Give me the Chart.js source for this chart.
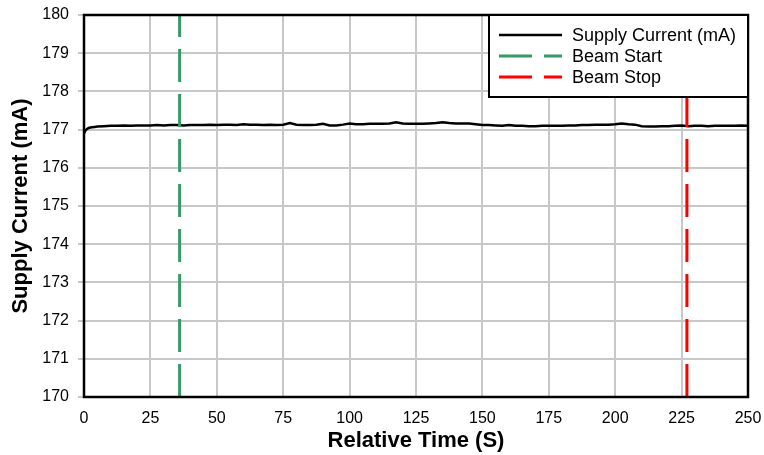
<!DOCTYPE html>
<html>
<head>
<meta charset="utf-8">
<script src="https://cdn.jsdelivr.net/npm/chart.js@4"></script>
<style>
  html, body { margin: 0; padding: 0; background: #fff; }
</style>
</head>
<body>
<canvas id="chart" width="764" height="455"></canvas>
<script>
// relative time (s) and supply current (mA)
const timeS = [
  0, 0.5, 1, 1.5, 2, 3, 4, 5, 7.5, 10, 12.5, 15, 17.5, 20, 22.5, 25, 27.5, 30, 32.5, 35,
  37.5, 40, 42.5, 45, 47.5, 50, 52.5, 55, 57.5, 60, 62.5, 65, 67.5, 70, 72.5, 75, 77.5, 80,
  82.5, 85, 87.5, 90, 92.5, 95, 97.5, 100, 102.5, 105, 107.5, 110, 112.5, 115, 117.5, 120,
  122.5, 125, 127.5, 130, 132.5, 135, 137.5, 140, 142.5, 145, 147.5, 150, 152.5, 155, 157.5,
  160, 162.5, 165, 167.5, 170, 172.5, 175, 177.5, 180, 182.5, 185, 187.5, 190, 192.5, 195,
  197.5, 200, 202.5, 205, 207.5, 210, 212.5, 215, 217.5, 220, 222.5, 225, 227.5, 230, 232.5,
  235, 237.5, 240, 242.5, 245, 247.5, 250
];
const currentMA = [
  176.90, 176.97, 177.01, 177.03, 177.05, 177.06, 177.07, 177.08, 177.09, 177.10, 177.10, 177.11, 177.10, 177.11, 177.11, 177.11, 177.12, 177.11, 177.12, 177.12,
  177.11, 177.12, 177.12, 177.12, 177.13, 177.12, 177.13, 177.13, 177.12, 177.14, 177.13, 177.13, 177.12, 177.13, 177.12, 177.13, 177.17, 177.13,
  177.12, 177.12, 177.13, 177.15, 177.11, 177.11, 177.13, 177.16, 177.14, 177.14, 177.15, 177.15, 177.15, 177.16, 177.19, 177.16,
  177.15, 177.15, 177.15, 177.16, 177.17, 177.19, 177.17, 177.16, 177.16, 177.16, 177.14, 177.12, 177.12, 177.11, 177.10,
  177.12, 177.10, 177.10, 177.09, 177.09, 177.10, 177.10, 177.10, 177.10, 177.11, 177.11, 177.12, 177.12, 177.13, 177.13,
  177.13, 177.14, 177.16, 177.14, 177.13, 177.09, 177.08, 177.08, 177.09, 177.09, 177.10, 177.11, 177.09, 177.10, 177.10,
  177.09, 177.10, 177.10, 177.10, 177.10, 177.11, 177.10
];
const beamStartS = 36;
const beamStopS = 227;
const yRange = [170, 180];
const xRange = [0, 250];

const fontFamily = '"Liberation Sans", Arial, sans-serif';

const frame = {
  id: 'frame',
  afterDatasetsDraw(chart) {
    const { ctx, chartArea } = chart;
    ctx.save();
    ctx.lineWidth = 2.5;
    ctx.strokeStyle = '#000';
    ctx.strokeRect(chartArea.left, chartArea.top, chartArea.right - chartArea.left, chartArea.bottom - chartArea.top);
    ctx.restore();
  }
};

// boxed legend sitting in the top right corner of the plot
const boxLegend = {
  id: 'boxLegend',
  afterDraw(chart) {
    const { ctx, chartArea } = chart;
    const w = 259, h = 82;
    const x = chartArea.right - w, y = chartArea.top;
    ctx.save();
    ctx.fillStyle = '#fff';
    ctx.fillRect(x, y, w, h);
    ctx.lineWidth = 2;
    ctx.strokeStyle = '#000';
    ctx.strokeRect(x, y, w, h);
    const rows = [20, 41, 62];
    chart.data.datasets.forEach((ds, i) => {
      const cy = y + rows[i];
      ctx.beginPath();
      ctx.setLineDash(ds.borderDash || []);
      ctx.lineWidth = ds.borderWidth;
      ctx.strokeStyle = ds.borderColor;
      ctx.moveTo(x + 10, cy);
      ctx.lineTo(x + 73, cy);
      ctx.stroke();
      ctx.setLineDash([]);
      ctx.fillStyle = '#000';
      ctx.font = '18px ' + fontFamily;
      ctx.textBaseline = 'middle';
      ctx.fillText(ds.label, x + 83, cy + 1);
    });
    ctx.restore();
  }
};

new Chart(document.getElementById('chart'), {
  type: 'line',
  data: {
    datasets: [
      {
        label: 'Supply Current (mA)',
        data: timeS.map((t, i) => ({ x: t, y: currentMA[i] })),
        borderColor: '#000',
        borderWidth: 2.5,
        pointRadius: 0,
        order: 3
      },
      {
        label: 'Beam Start',
        data: [{ x: beamStartS, y: yRange[0] }, { x: beamStartS, y: yRange[1] }],
        borderColor: '#379968',
        borderWidth: 3,
        borderDash: [33, 12],
        pointRadius: 0,
        order: 1
      },
      {
        label: 'Beam Stop',
        data: [{ x: beamStopS, y: yRange[0] }, { x: beamStopS, y: yRange[1] }],
        borderColor: '#ff0000',
        borderWidth: 3,
        borderDash: [33, 12],
        pointRadius: 0,
        order: 2
      }
    ]
  },
  options: {
    responsive: false,
    animation: false,
    layout: { padding: { top: 15, right: 16, left: 0, bottom: 0 } },
    plugins: {
      legend: { display: false },
      tooltip: { enabled: false }
    },
    scales: {
      x: {
        type: 'linear',
        min: xRange[0],
        max: xRange[1],
        afterFit: s => { s.height = 58; s.paddingLeft = 0; s.paddingRight = 0; },
        ticks: { stepSize: 25, color: '#000', font: { family: fontFamily, size: 16 }, padding: 12, maxRotation: 0 },
        grid: { color: '#c8c8c8', lineWidth: 2, drawTicks: false },
        border: { display: false },
        title: { display: true, text: 'Relative Time (S)', color: '#000', font: { family: fontFamily, size: 22, weight: 'bold' }, padding: { top: 0, bottom: 1 } }
      },
      y: {
        min: yRange[0],
        max: yRange[1],
        afterFit: s => { s.width = 84; s.paddingTop = 0; s.paddingBottom = 0; },
        ticks: { stepSize: 1, color: '#000', font: { family: fontFamily, size: 16 }, padding: 9 },
        grid: { color: '#c8c8c8', lineWidth: 2, tickLength: 6 },
        border: { display: false },
        title: { display: true, text: 'Supply Current (mA)', color: '#000', font: { family: fontFamily, size: 22, weight: 'bold' }, padding: { top: 8, bottom: 0 } }
      }
    }
  },
  plugins: [frame, boxLegend]
});
</script>
</body>
</html>
